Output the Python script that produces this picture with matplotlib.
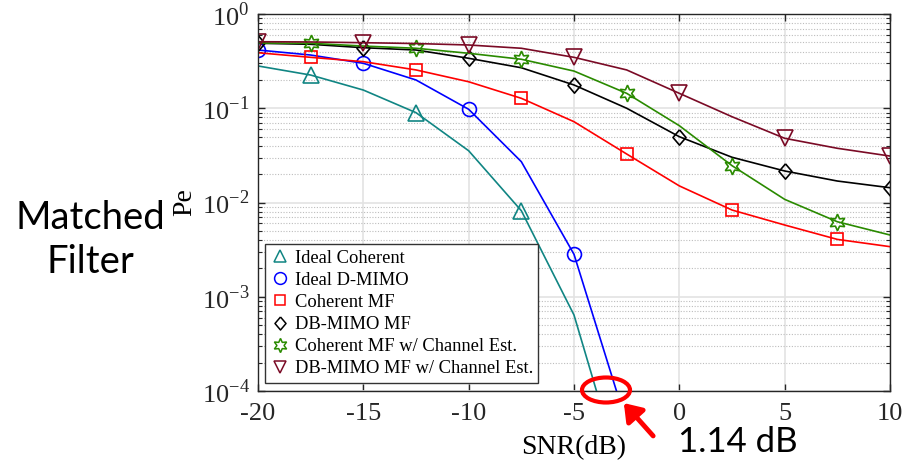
import numpy as np
import matplotlib
matplotlib.use("Agg")
import matplotlib.pyplot as plt
from matplotlib.lines import Line2D
from matplotlib.patches import Ellipse, FancyArrowPatch
from matplotlib.ticker import FixedLocator, FixedFormatter, LogLocator, NullFormatter

# SNR grid (dB)
snr = np.array([-20, -17.5, -15, -12.5, -10, -7.5, -5, -2.5, 0, 2.5, 5, 7.5, 10])

# error probabilities
pe_ideal_coh = np.array([0.281, 0.225, 0.156, 0.0898, 0.0354, 0.00818, 0.00064, 0.0000083])
pe_ideal_dmimo = np.array([0.415, 0.367, 0.300, 0.1995, 0.0975, 0.0271, 0.00282, 0.000045])
pe_coh_mf = np.array([0.388, 0.347, 0.312, 0.255, 0.191, 0.1275, 0.0720, 0.0327,
                      0.0150, 0.00832, 0.00577, 0.00406, 0.00340])
pe_db_mf = np.array([0.489, 0.477, 0.439, 0.415, 0.339, 0.269, 0.1766, 0.100,
                     0.0499, 0.0302, 0.0216, 0.0169, 0.01435])
pe_coh_est = np.array([0.492, 0.489, 0.457, 0.433, 0.383, 0.331, 0.248, 0.144,
                       0.0653, 0.0246, 0.0108, 0.00625, 0.00452])
pe_db_est = np.array([0.508, 0.505, 0.496, 0.486, 0.469, 0.433, 0.347, 0.255,
                      0.144, 0.0813, 0.048, 0.0376, 0.0311])

labels = ["Ideal Coherent", "Ideal D-MIMO", "Coherent MF", "DB-MIMO MF",
          "Coherent MF w/ Channel Est.", "DB-MIMO MF w/ Channel Est."]
xticks = [-20, -15, -10, -5, 0, 5, 10]
yticks = [1e-4, 1e-3, 1e-2, 1e-1, 1e0]
ytick_labels = ["$10^{-4}$", "$10^{-3}$", "$10^{-2}$", "$10^{-1}$", "$10^{0}$"]

plt.rcParams["font.family"] = "Liberation Serif"
plt.rcParams["mathtext.fontset"] = "custom"
plt.rcParams["mathtext.rm"] = "Liberation Serif"
plt.rcParams["axes.unicode_minus"] = False

diamond = [(0, 1), (0.85, 0), (0, -1), (-0.85, 0), (0, 1)]
styles = [
    dict(color="#108583", marker="^", ms=11, me=(1, 2)),
    dict(color="#0000ff", marker="o", ms=10, me=(0, 2)),
    dict(color="#ff0000", marker="s", ms=8.5, me=(1, 2)),
    dict(color="#000000", marker=diamond, ms=11, me=(0, 2)),
    dict(color="#2a8a00", marker=(6, 1, 0), ms=12, me=(1, 2)),
    dict(color="#7a0a25", marker="v", ms=11, me=(0, 2)),
]
series = [pe_ideal_coh, pe_ideal_dmimo, pe_coh_mf, pe_db_mf, pe_coh_est, pe_db_est]

fig = plt.figure(figsize=(9.02, 4.62), dpi=100)
ax = fig.add_axes([258 / 902, 1 - 391 / 462, 632 / 902, 377 / 462])

for y, st in zip(series, styles):
    ax.plot(snr[:len(y)], y, color=st["color"], lw=1.2, marker=st["marker"],
            ms=st["ms"], mfc="none", mec=st["color"], mew=1.2, markevery=st["me"])

ax.set_yscale("log")
ax.set_xlim(-20, 10)
ax.set_ylim(1e-4, 1)
ax.set_xticks(xticks)
ax.set_xticklabels([str(t) for t in xticks])
ax.yaxis.set_major_locator(FixedLocator(yticks))
ax.yaxis.set_major_formatter(FixedFormatter(ytick_labels))
ax.yaxis.set_minor_locator(LogLocator(base=10, subs=np.arange(2, 10)))
ax.yaxis.set_minor_formatter(NullFormatter())

ax.grid(True, which="major", color="#e3e3e3", lw=1.2, ls="-")
ax.grid(True, which="minor", axis="y", color="#bdbdbd", lw=0.8, ls=(0, (1, 1.5)))
ax.set_axisbelow(True)
ax.tick_params(which="both", direction="in", top=True, right=True, colors="#262626",
               labelsize=19)
ax.tick_params(axis="x", pad=9)
ax.tick_params(axis="y", pad=6)
ax.tick_params(which="major", length=5, width=1)
ax.tick_params(which="minor", length=3, width=0.8)
for sp in ax.spines.values():
    sp.set_color("#262626")
    sp.set_linewidth(1.0)

ax.set_xlabel("SNR(dB)", fontsize=20, labelpad=7)
ax.set_ylabel("Pe", fontsize=20, labelpad=3)

handles = [Line2D([], [], ls="none", marker=st["marker"], ms=st["ms"] * 0.85,
                  mfc="none", mec=st["color"], mew=1.1) for st in styles]
leg = ax.legend(handles, labels, loc="lower left", bbox_to_anchor=(7 / 632, 8 / 377),
                fontsize=13.3, frameon=True, fancybox=False, framealpha=1,
                edgecolor="#333333", handlelength=1.0, handletextpad=0.3,
                labelspacing=0.28, borderpad=0.3, borderaxespad=0)
leg.get_frame().set_linewidth(1.0)

# annotations outside the axes
fig.text(90 / 902, 1 - 240 / 462, "Matched\nFilter", family="Lato", fontsize=27.5,
         ha="center", va="center", linespacing=1.3)
fig.text(678 / 902, 1 - 452 / 462, "1.14 dB", family="Lato", fontsize=25,
         ha="left", va="baseline")
fig.add_artist(Ellipse((606 / 902, 1 - 390 / 462), 48 / 902, 25 / 462,
                       transform=fig.transFigure, fill=False, ec="#ff0000", lw=3))
fig.add_artist(FancyArrowPatch((655 / 902, 1 - 438 / 462), (622 / 902, 1 - 401 / 462),
                               transform=fig.transFigure, color="#ff0000", lw=3.5,
                               arrowstyle="-|>,head_length=0.5,head_width=0.35",
                               mutation_scale=20))

fig.savefig("out.png", dpi=100)
